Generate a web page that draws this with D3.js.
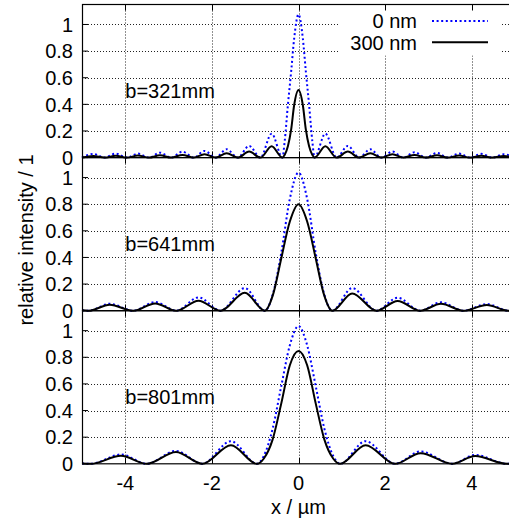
<!DOCTYPE html>
<html>
<head>
<meta charset="utf-8">
<script src="https://cdn.jsdelivr.net/npm/d3@7"></script>
<style>
  body { margin: 0; background: #fff; }
  svg { display: block; font-family: "Liberation Sans", Arial, sans-serif; }
</style>
</head>
<body>
<div class="chart"></div>
<script>

// ===============================
// Data
// ===============================

const xTicks = [-4, -2, 0, 2, 4];
const xTickLabels = ["-4", "-2", "0", "2", "4"];
const yTicks = [0, 0.2, 0.4, 0.6, 0.8, 1];
const yTickLabels = ["0", "0.2", "0.4", "0.6", "0.8", "1"];

const panelLabels = ["b=321mm", "b=641mm", "b=801mm"];
const seriesNames = ["0 nm", "300 nm"];

// b = 321 mm
const x321 = [-5.0, -4.74, -4.48, -4.22, -3.96, -3.71, -3.45, -3.20, -2.94, -2.68, -2.42, -2.17, -1.91, -1.66, -1.40, -1.14, -0.88, -0.62,
    -0.37, -0.32, -0.245, -0.17, -0.10, 0, 0.10, 0.17, 0.245, 0.32, 0.37,
    0.62, 0.88, 1.14, 1.40, 1.66, 1.91, 2.17, 2.42, 2.68, 2.94, 3.20, 3.45, 3.71, 3.96, 4.22, 4.48, 4.74, 5.0];
const i0nm321 = [0, 0.028, 0, 0.03, 0, 0.03, 0, 0.037, 0, 0.045, 0, 0.05, 0, 0.063, 0, 0.088, 0, 0.18,
    0, 0.12, 0.395, 0.645, 0.895, 1.076, 0.895, 0.645, 0.395, 0.12, 0,
    0.18, 0, 0.088, 0, 0.063, 0, 0.045, 0, 0.04, 0, 0.035, 0, 0.03, 0, 0.028, 0, 0.025, 0];
const i300nm321 = [0, 0.012, 0, 0.013, 0, 0.015, 0, 0.017, 0, 0.02, 0, 0.025, 0, 0.033, 0, 0.045, 0, 0.085,
    0, 0.02, 0.085, 0.21, 0.395, 0.508, 0.395, 0.21, 0.085, 0.02, 0,
    0.085, 0, 0.045, 0, 0.033, 0, 0.025, 0, 0.02, 0, 0.017, 0, 0.015, 0, 0.013, 0, 0.012, 0];

// b = 641 mm
const x641 = [-5.0, -4.85, -4.36, -3.82, -3.31, -2.82, -2.31, -1.80, -1.24, -0.78, -0.58, -0.40, -0.20, 0,
    0.20, 0.40, 0.58, 0.78, 1.24, 1.80, 2.29, 2.81, 3.29, 3.81, 4.35, 4.85, 5.0];
const i0nm641 = [0.004, 0, 0.052, 0, 0.065, 0, 0.10, 0, 0.17, 0, 0.14, 0.43, 0.84, 1.037,
    0.84, 0.43, 0.14, 0, 0.17, 0, 0.097, 0, 0.063, 0, 0.05, 0, 0.004];
const i300nm641 = [0.003, 0, 0.045, 0, 0.055, 0, 0.075, 0, 0.135, 0, 0.13, 0.39, 0.67, 0.80,
    0.67, 0.39, 0.13, 0, 0.13, 0, 0.073, 0, 0.052, 0, 0.043, 0, 0.003];

// b = 801 mm
const x801 = [-5.0, -4.80, -4.10, -3.50, -2.83, -2.22, -1.56, -0.96, -0.80, -0.60, -0.40, -0.20, 0,
    0.20, 0.40, 0.60, 0.80, 0.96, 1.55, 2.23, 2.82, 3.55, 4.08, 4.82, 5.0];
const i0nm801 = [0.003, 0, 0.07, 0, 0.097, 0, 0.17, 0, 0.06, 0.26, 0.58, 0.89, 1.034,
    0.89, 0.58, 0.26, 0.06, 0, 0.17, 0, 0.093, 0, 0.067, 0, 0.004];
const i300nm801 = [0.003, 0, 0.06, 0, 0.088, 0, 0.14, 0, 0.04, 0.18, 0.45, 0.74, 0.847,
    0.74, 0.45, 0.18, 0.04, 0, 0.14, 0, 0.08, 0, 0.058, 0, 0.003];

const panels = [
    { label: panelLabels[0], x: x321, s0: i0nm321, s300: i300nm321 },
    { label: panelLabels[1], x: x641, s0: i0nm641, s300: i300nm641 },
    { label: panelLabels[2], x: x801, s0: i0nm801, s300: i300nm801 }
];

// ===============================
// Layout
// ===============================

const width = 509;
const height = 521;
const plotLeft = 82;
const plotRight = 515;      // plot runs past the window edge, like the original
const plotTop = 4.5;
const panelH = 153.1;
const fontSize = "20px";

const svg = d3.select(".chart")
    .append("svg")
    .attr("width", width)
    .attr("height", height);

const x = d3.scaleLinear()
    .domain([-5, 5])
    .range([plotLeft, plotRight]);

const line = (yScale) => d3.line()
    .x(d => x(d[0]))
    .y(d => yScale(d[1]))
    .curve(d3.curveMonotoneX);

// =========================
// Panels
// =========================

panels.forEach((p, i) => {

    const y0 = plotTop + i * panelH;
    const y = d3.scaleLinear()
        .domain([0, 1.15])
        .range([y0 + panelH, y0]);

    const g = svg.append("g");

    // grid
    g.append("g")
        .selectAll("line")
        .data(yTicks.slice(1))
        .join("line")
        .attr("x1", plotLeft)
        .attr("x2", plotRight)
        .attr("y1", d => Math.round(y(d)) + 0.5)
        .attr("y2", d => Math.round(y(d)) + 0.5)
        .attr("stroke", "#222")
        .attr("stroke-dasharray", "1,2");

    g.append("g")
        .selectAll("line")
        .data(xTicks)
        .join("line")
        .attr("x1", d => Math.round(x(d)) + 0.5)
        .attr("x2", d => Math.round(x(d)) + 0.5)
        .attr("y1", y0)
        .attr("y2", y0 + panelH)
        .attr("stroke", "#222")
        .attr("stroke-dasharray", "1,2");

    // key box hides the grid behind it
    if (i === 0) {
        g.append("rect")
            .attr("x", 340)
            .attr("y", y0 + 1)
            .attr("width", 160)
            .attr("height", 50)
            .attr("fill", "#fff");
    }

    // inward tick marks
    g.append("g")
        .selectAll("line")
        .data(yTicks)
        .join("line")
        .attr("x1", plotLeft)
        .attr("x2", plotLeft + 6)
        .attr("y1", d => y(d))
        .attr("y2", d => y(d))
        .attr("stroke", "#000");

    g.append("g")
        .selectAll("line")
        .data(xTicks.flatMap(t => [[t, y0, y0 + 6], [t, y0 + panelH, y0 + panelH - 6]]))
        .join("line")
        .attr("x1", d => Math.round(x(d[0])) + 0.5)
        .attr("x2", d => Math.round(x(d[0])) + 0.5)
        .attr("y1", d => d[1])
        .attr("y2", d => d[2])
        .attr("stroke", "#000");

    // y tick labels
    g.append("g")
        .selectAll("text")
        .data(yTicks)
        .join("text")
        .attr("x", plotLeft - 9)
        .attr("y", d => y(d))
        .attr("dy", "0.36em")
        .attr("text-anchor", "end")
        .style("font-size", fontSize)
        .text((d, j) => yTickLabels[j]);

    // panel label
    g.append("text")
        .attr("x", x(-4))
        .attr("y", y(0.5))
        .attr("dy", "0.36em")
        .style("font-size", fontSize)
        .text(p.label);

    // curves
    const pts0 = p.x.map((v, j) => [v, p.s0[j]]);
    const pts300 = p.x.map((v, j) => [v, p.s300[j]]);

    g.append("path")
        .attr("d", line(y)(pts0))
        .attr("fill", "none")
        .attr("stroke", "#0000ff")
        .attr("stroke-width", 2)
        .attr("stroke-dasharray", "2,2.6");

    g.append("path")
        .attr("d", line(y)(pts300))
        .attr("fill", "none")
        .attr("stroke", "#000")
        .attr("stroke-width", 2);

    // border
    g.append("rect")
        .attr("x", plotLeft + 0.5)
        .attr("y", y0)
        .attr("width", plotRight - plotLeft)
        .attr("height", panelH)
        .attr("fill", "none")
        .attr("stroke", "#000")
        .attr("stroke-width", 1.2);
});

// =========================
// Legend
// =========================

const legend = svg.append("g");
const keyY = [21, 42.3];

legend.selectAll("text")
    .data(seriesNames)
    .join("text")
    .attr("x", 417)
    .attr("y", (d, i) => keyY[i])
    .attr("dy", "0.36em")
    .attr("text-anchor", "end")
    .style("font-size", fontSize)
    .text(d => d);

legend.append("line")
    .attr("x1", 432).attr("x2", 488)
    .attr("y1", keyY[0]).attr("y2", keyY[0])
    .attr("stroke", "#0000ff")
    .attr("stroke-width", 2)
    .attr("stroke-dasharray", "2,2.6");

legend.append("line")
    .attr("x1", 432).attr("x2", 488)
    .attr("y1", keyY[1]).attr("y2", keyY[1])
    .attr("stroke", "#000")
    .attr("stroke-width", 2);

// =========================
// X axis labels (bottom panel)
// =========================

const plotBottom = plotTop + 3 * panelH;

svg.append("g")
    .selectAll("text")
    .data(xTicks)
    .join("text")
    .attr("x", d => x(d))
    .attr("y", plotBottom + 26)
    .attr("text-anchor", "middle")
    .style("font-size", fontSize)
    .text((d, i) => xTickLabels[i]);

svg.append("text")
    .attr("x", x(0))
    .attr("y", plotBottom + 50)
    .attr("text-anchor", "middle")
    .style("font-size", fontSize)
    .text("x / µm");

svg.append("text")
    .attr("transform", "rotate(-90)")
    .attr("x", -240)
    .attr("y", 33)
    .attr("text-anchor", "middle")
    .style("font-size", fontSize)
    .text("relative intensity / 1");

</script>
</body>
</html>
